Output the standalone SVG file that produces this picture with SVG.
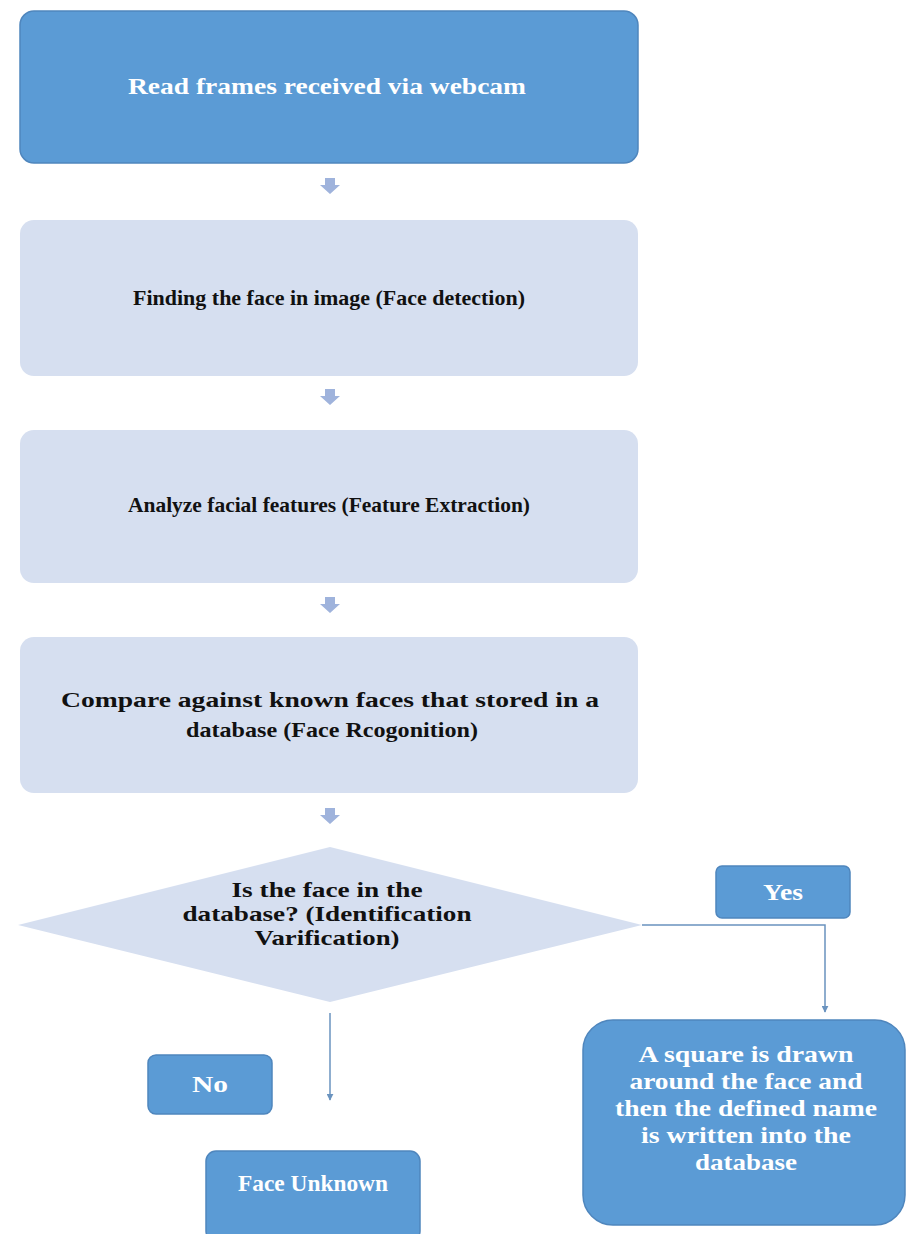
<svg xmlns="http://www.w3.org/2000/svg" width="910" height="1234" viewBox="0 0 910 1234">
<style>
.dark{fill:#5b9bd5;stroke:#4f86bd;stroke-width:1.5}
.light{fill:#d6dff0;stroke:none}
.tw{font-family:"Liberation Serif",serif;font-weight:bold;font-size:23px;fill:#ffffff;text-anchor:middle}
.tb{font-family:"Liberation Serif",serif;font-weight:bold;font-size:22px;fill:#111111;text-anchor:middle}
.blk{fill:#9fb3dc}
.ln{stroke:#6a93bf;stroke-width:1.5;fill:none}
</style>
<defs>
<marker id="ah" viewBox="0 0 10 10" refX="9" refY="5" markerWidth="7" markerHeight="7" orient="auto" markerUnits="userSpaceOnUse">
<path d="M0,0 L10,5 L0,10 z" fill="#6a93bf"/>
</marker>
</defs>
<rect width="910" height="1234" fill="#ffffff"/>
<g id="n1"><rect class="dark" x="20" y="11" width="618" height="152" rx="14"/><text class="tw" x="327" y="94" font-size="25" textLength="398" lengthAdjust="spacingAndGlyphs">Read frames received via webcam</text></g>
<g id="n2"><rect class="light" x="20" y="220" width="618" height="156" rx="14"/><text class="tb" x="329" y="305" textLength="392" lengthAdjust="spacingAndGlyphs">Finding the face in image (Face detection)</text></g>
<g id="n3"><rect class="light" x="20" y="430" width="618" height="153" rx="14"/><text class="tb" x="329" y="512" textLength="402" lengthAdjust="spacingAndGlyphs">Analyze facial features (Feature Extraction)</text></g>
<g id="n4"><rect class="light" x="20" y="637" width="618" height="156" rx="14"/><text class="tb" x="330" y="707" font-size="24" textLength="538" lengthAdjust="spacingAndGlyphs">Compare against known faces that stored in a</text><text class="tb" x="332" y="737" font-size="24" textLength="292" lengthAdjust="spacingAndGlyphs">database (Face Rcogonition)</text></g>
<g id="n5"><polygon class="light" points="330,847 642,925 330,1002 18,925"/><text class="tb" x="327" y="897" font-size="24" textLength="191" lengthAdjust="spacingAndGlyphs">Is the face in the</text><text class="tb" x="327" y="921" font-size="24" textLength="289" lengthAdjust="spacingAndGlyphs">database? (Identification</text><text class="tb" x="327" y="945" font-size="24" textLength="145" lengthAdjust="spacingAndGlyphs">Varification)</text></g>
<g id="n6"><rect class="dark" x="716" y="866" width="134" height="52" rx="6"/><text class="tw" x="783" y="900" font-size="21" textLength="40" lengthAdjust="spacingAndGlyphs">Yes</text></g>
<g id="n7"><rect class="dark" x="583" y="1020" width="322" height="205" rx="30"/><text class="tw" x="746" y="1062" font-size="24" textLength="215" lengthAdjust="spacingAndGlyphs">A square is drawn</text><text class="tw" x="746" y="1089" font-size="24" textLength="233" lengthAdjust="spacingAndGlyphs">around the face and</text><text class="tw" x="746" y="1116" font-size="24" textLength="262" lengthAdjust="spacingAndGlyphs">then the defined name</text><text class="tw" x="746" y="1143" font-size="24" textLength="210" lengthAdjust="spacingAndGlyphs">is written into the</text><text class="tw" x="746" y="1170" font-size="24" textLength="102" lengthAdjust="spacingAndGlyphs">database</text></g>
<g id="n8"><rect class="dark" x="148" y="1055" width="124" height="59" rx="8"/><text class="tw" x="210" y="1092" font-size="21" textLength="36" lengthAdjust="spacingAndGlyphs">No</text></g>
<g id="n9"><rect class="dark" x="206" y="1151" width="214" height="90" rx="10"/><text class="tw" x="313" y="1191" font-size="22" textLength="150" lengthAdjust="spacingAndGlyphs">Face Unknown</text></g>
<g id="connectors">
<path class="blk" d="M325,178 h10 v7 h5 l-10,9 l-10,-9 h5 z"/>
<path class="blk" d="M325,389 h10 v7 h5 l-10,9 l-10,-9 h5 z"/>
<path class="blk" d="M325,597 h10 v7 h5 l-10,9 l-10,-9 h5 z"/>
<path class="blk" d="M325,808 h10 v7 h5 l-10,9 l-10,-9 h5 z"/>
<path class="ln" d="M642,925 H825 V1012" marker-end="url(#ah)"/>
<path class="ln" d="M330,1013 V1100" marker-end="url(#ah)"/>
</g>
</svg>
